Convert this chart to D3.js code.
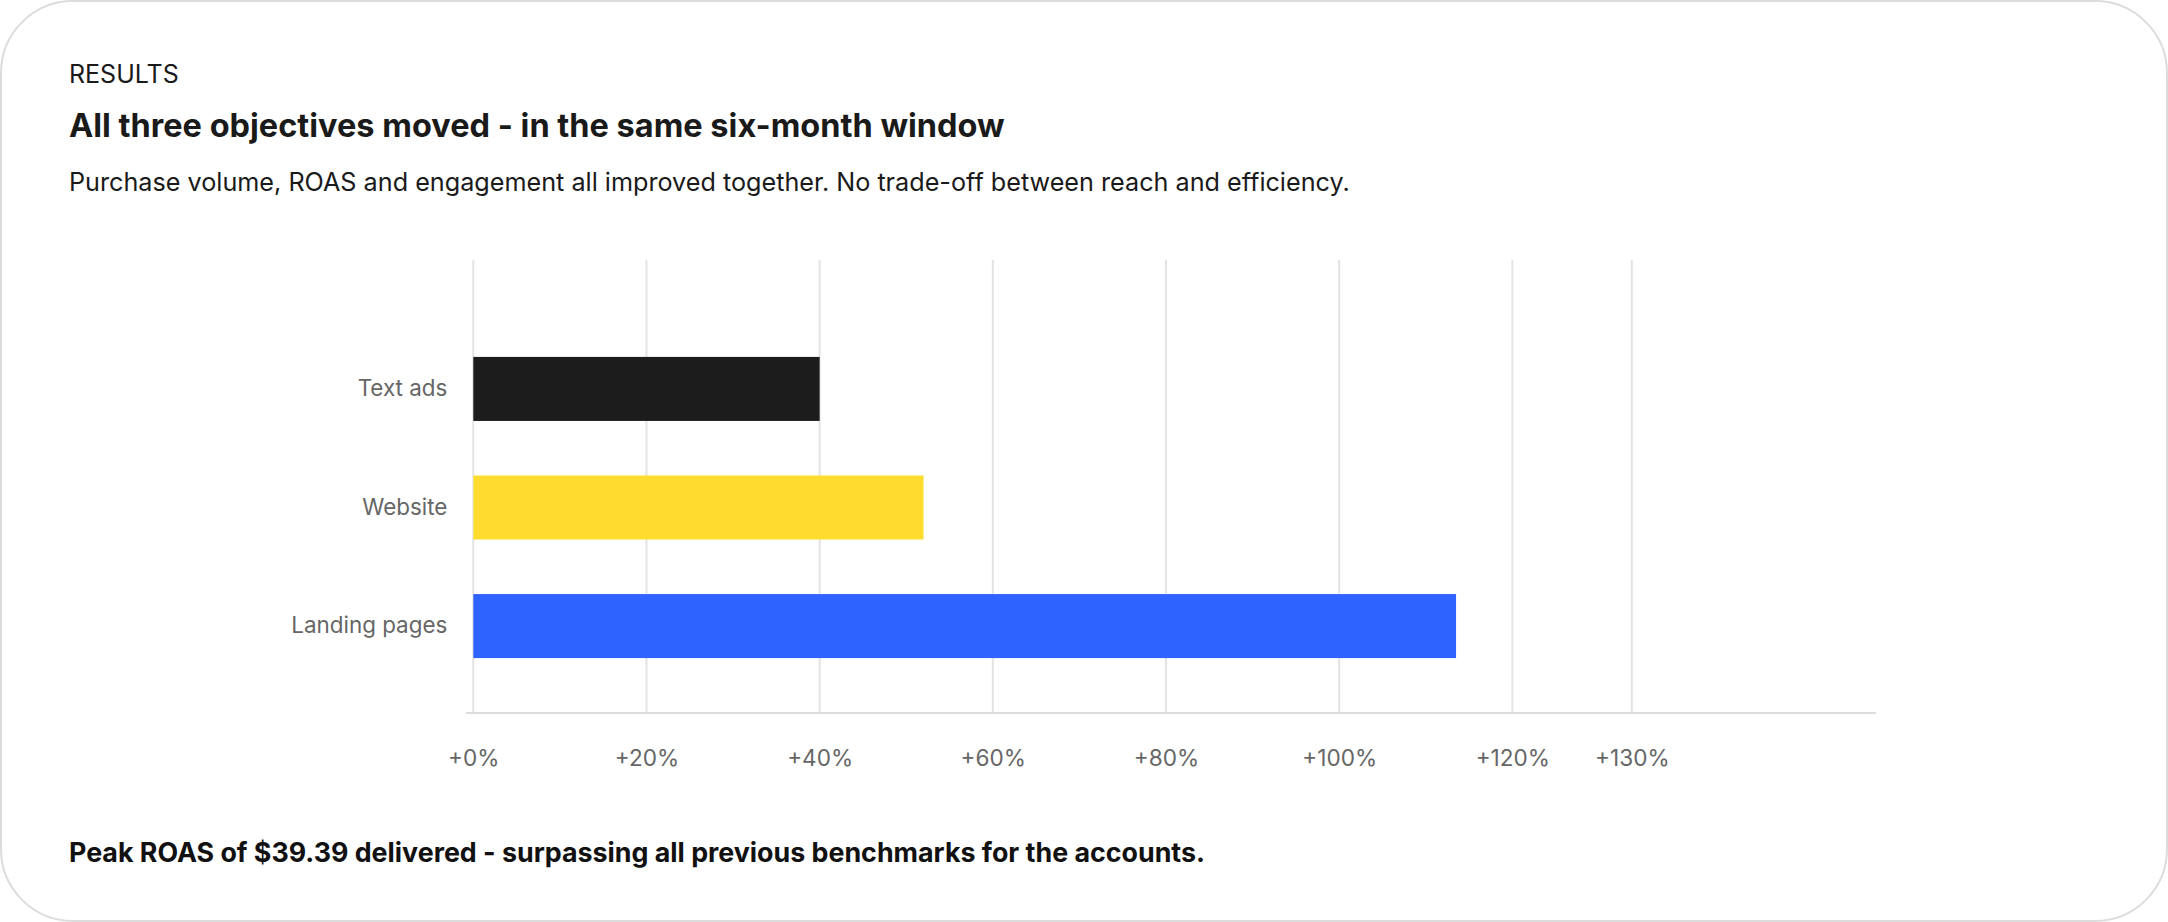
<!DOCTYPE html>
<html>
<head>
<meta charset="utf-8">
<style>
html, body { margin: 0; padding: 0; background: #fff; }
svg { display: block; font-family: Inter, "Noto Sans", sans-serif; }
.axis .domain { display: none; }
.axis line { display: none; }
</style>
</head>
<body>
<svg width="2168" height="922" id="chart"></svg>
<script src="https://d3js.org/d3.v7.min.js"></script>
<script>
var categories = ["Text ads", "Website", "Landing pages"];
var lift = [40, 52, 113.5];
var barColors = ["#1c1c1c", "#ffdc2e", "#2f63ff"];
var tickValues = [0, 20, 40, 60, 80, 100, 120, 133.8];
var tickLabels = ["+0%", "+20%", "+40%", "+60%", "+80%", "+100%", "+120%", "+130%"];

var svg = d3.select("#chart"),
    W = +svg.attr("width"),
    H = +svg.attr("height");

// card
svg.append("rect")
    .attr("x", 1).attr("y", 1)
    .attr("width", W - 2).attr("height", H - 2)
    .attr("rx", 72).attr("ry", 72)
    .attr("fill", "#fff")
    .attr("stroke", "#dcdcdc")
    .attr("stroke-width", 2);

svg.append("text")
    .attr("x", 69).attr("y", 82.5)
    .attr("font-size", 25)
    .attr("fill", "#1a1a1a")
    .text("RESULTS");

svg.append("text")
    .attr("x", 69).attr("y", 136.5)
    .attr("font-size", 32.5)
    .attr("font-weight", 700)
    .attr("fill", "#1a1a1a")
    .text("All three objectives moved - in the same six-month window");

svg.append("text")
    .attr("x", 69).attr("y", 190.5)
    .attr("font-size", 25.2)
    .attr("fill", "#1a1a1a")
    .text("Purchase volume, ROAS and engagement all improved together. No trade-off between reach and efficiency.");

svg.append("text")
    .attr("x", 69).attr("y", 861.5)
    .attr("font-size", 26.8)
    .attr("font-weight", 700)
    .attr("fill", "#111")
    .text("Peak ROAS of $39.39 delivered - surpassing all previous benchmarks for the accounts.");

var x = d3.scaleLinear()
    .domain([0, 162])
    .range([473.3, 1876]);

var y = d3.scaleBand()
    .domain(categories)
    .range([300, 715])
    .paddingInner(0.46)
    .paddingOuter(0.48);

var gridTop = 260, gridBottom = 713;

// gridlines
svg.append("g")
  .selectAll("line")
  .data(tickValues)
  .enter().append("line")
    .attr("x1", function(d) { return x(d); })
    .attr("x2", function(d) { return x(d); })
    .attr("y1", gridTop)
    .attr("y2", gridBottom)
    .attr("stroke", "#e3e3e3")
    .attr("stroke-width", 2);

// baseline
svg.append("line")
    .attr("x1", x(0) - 7).attr("x2", x.range()[1])
    .attr("y1", gridBottom).attr("y2", gridBottom)
    .attr("stroke", "#dcdcdc")
    .attr("stroke-width", 2);

// bars
svg.append("g")
  .selectAll("rect")
  .data(categories)
  .enter().append("rect")
    .attr("x", x(0))
    .attr("y", function(d) { return y(d); })
    .attr("width", function(d, i) { return x(lift[i]) - x(0); })
    .attr("height", y.bandwidth())
    .attr("fill", function(d, i) { return barColors[i]; });

// x axis labels
var xAxis = svg.append("g")
    .attr("class", "axis")
    .attr("transform", "translate(0," + gridBottom + ")")
    .call(d3.axisBottom(x)
      .tickValues(tickValues)
      .tickSize(0)
      .tickPadding(36.5)
      .tickFormat(function(d, i) { return tickLabels[i]; }));
xAxis.selectAll("text")
    .attr("font-family", "Inter, sans-serif")
    .attr("font-size", 22.6)
    .attr("fill", "#666");

// y axis labels
var yAxis = svg.append("g")
    .attr("class", "axis")
    .attr("transform", "translate(" + x(0) + ",0)")
    .call(d3.axisLeft(y).tickSize(0).tickPadding(26));
yAxis.selectAll("text")
    .attr("font-family", "Inter, sans-serif")
    .attr("font-size", 22.4)
    .attr("fill", "#666");
</script>
</body>
</html>
